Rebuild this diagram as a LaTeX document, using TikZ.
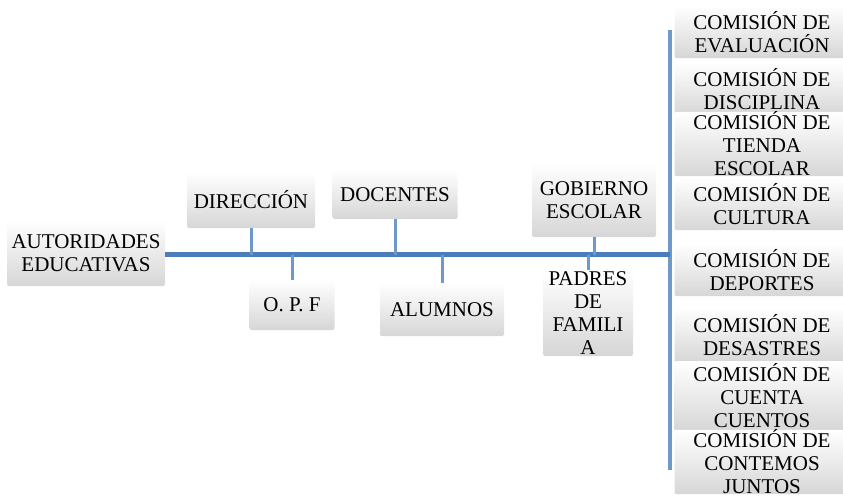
\documentclass[tikz,border=0pt]{standalone}
\usepackage{fontspec}
\setmainfont{Liberation Serif}
\definecolor{lineblue}{HTML}{4A7EBB}
\definecolor{stubblue}{HTML}{6F98CB}
\begin{document}
\begin{tikzpicture}[x=1pt, y=-1pt,
    box/.style = {shade, top color=white, middle color=white, bottom color=black!16, rounded corners=2pt,
        align=center, inner sep=0pt, font=\fontsize{21}{23}\selectfont},
    stem/.style = {line width=3pt, stubblue}]
    \useasboundingbox (0,0) rectangle (843,499);
    % left side
    \node[box, minimum width=158, minimum height=66] (aut) at (86,253) {AUTORIDADES\\EDUCATIVAS};
    \node[box, minimum width=128, minimum height=56] (dir) at (251,200) {DIRECCIÓN};
    \node[box, minimum width=85, minimum height=50] (opf) at (292,305) {O. P. F};
    \node[box, minimum width=125, minimum height=49] (doc) at (395,194.5) {DOCENTES};
    \node[box, minimum width=124, minimum height=53] (alu) at (442,309.5) {ALUMNOS};
    \node[box, minimum width=124, minimum height=74] (gob) at (594,200) {GOBIERNO\\ESCOLAR};
    \node[box, minimum width=90, minimum height=86] (pad) at (588,313) {PADRES\\DE\\FAMILI\\A};
    % comisiones
    \node[box, minimum width=175, minimum height=52] (eva) at (762,32) {COMISIÓN DE\\EVALUACIÓN};
    \node[box, minimum width=175, minimum height=52] (dis) at (762,89) {COMISIÓN DE\\DISCIPLINA};
    \node[box, minimum width=175, minimum height=63] (tie) at (762,144) {COMISIÓN DE\\TIENDA\\ESCOLAR};
    \node[box, minimum width=175, minimum height=52] (cul) at (762,204) {COMISIÓN DE\\CULTURA};
    \node[box, minimum width=175, minimum height=52] (dep) at (762,270) {COMISIÓN DE\\DEPORTES};
    \node[box, minimum width=175, minimum height=56] (des) at (762,335) {COMISIÓN DE\\DESASTRES};
    \node[box, minimum width=175, minimum height=70] (cue) at (762,396) {COMISIÓN DE\\CUENTA\\CUENTOS};
    \node[box, minimum width=175, minimum height=60] (con) at (762,462) {COMISIÓN DE\\CONTEMOS\\JUNTOS};
    \coordinate (hub) at (670,254.5);
    \coordinate (top) at (670,30);
    \coordinate (bot) at (670,470);
    % lines
    \draw[line width=4pt, stubblue] (top) -- (bot);
    \draw[line width=5pt, lineblue] (aut.east |- hub) -- (hub);
    \foreach \n in {dir, doc, gob}
        \draw[stem] (\n.south) -- (\n.south |- hub);
    \foreach \n in {opf, alu, pad}
        \draw[stem] (\n.north) -- (\n.north |- hub);
\end{tikzpicture}
\end{document}
